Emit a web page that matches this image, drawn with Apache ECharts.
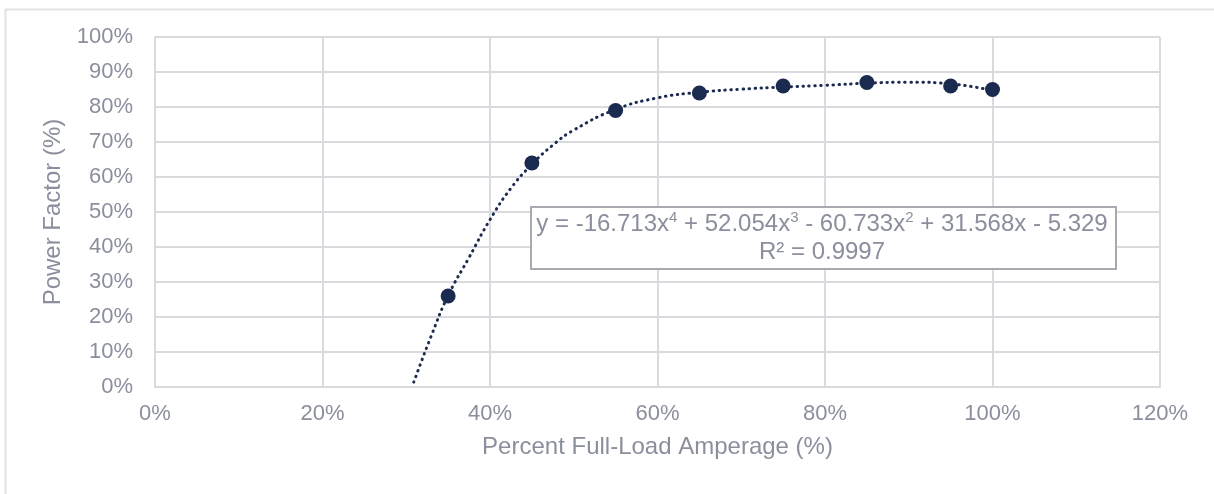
<!DOCTYPE html>
<html>
<head>
<meta charset="utf-8">
<script src="https://cdn.jsdelivr.net/npm/echarts@6/dist/echarts.min.js"></script>
<style>html,body{margin:0;padding:0;background:#fff}#c{width:1214px;height:494px}</style>
</head>
<body>
<div id="c"></div>
<script>
// Measured points (Percent Full-Load Amperage %, Power Factor %)
var loadPct = [35, 45, 55, 65, 75, 85, 95, 100];
var powerFactor = [26, 64, 79, 84, 86, 87, 86, 85];
// Trendline
var trendX = [30.9, 33, 35, 37.5, 40, 42.5, 45, 47.5, 50, 55, 60, 65, 70, 75, 80, 85, 90, 95, 100];
var trendY = [1.4, 14.7, 26.1, 37, 47.8, 56.8, 63.6, 69.1, 73.4, 79.3, 82.6, 84.2, 85.1, 85.7, 86.2, 86.8, 87.1, 86.6, 84.7];
var xTicks = {min: 0, max: 120, step: 20};
var yTicks = {min: 0, max: 100, step: 10};
var eqLine1 = ['y = -16.713x', '4', ' + 52.054x', '3', ' - 60.733x', '2', ' + 31.568x - 5.329'];
var eqLine2 = 'R² = 0.9997';
var xTitle = 'Percent Full-Load Amperage (%)';
var yTitle = 'Power Factor (%)';

var FONT = 'Liberation Sans';
var TXT = '#8b8e9c';
var GRID = '#d9d9de';
var NAVY = '#1b2a4f';

var pts = loadPct.map(function (x, i) { return [x, powerFactor[i]]; });
var trend = trendX.map(function (x, i) { return [x, trendY[i]]; });

var rich = {
  n: {fontSize: 24, fontFamily: FONT, fill: TXT, lineHeight: 27},
  s: {fontSize: 15, fontFamily: FONT, fill: TXT, verticalAlign: 'top', lineHeight: 17}
};
var l1 = eqLine1.map(function (t, i) { return (i % 2 ? '{s|' : '{n|') + t + '}'; }).join('');

var chart = echarts.init(document.getElementById('c'));
chart.setOption({
  animation: false,
  grid: {left: 155, right: 54, top: 37, bottom: 107},
  xAxis: {
    type: 'value', min: xTicks.min, max: xTicks.max, interval: xTicks.step,
    name: xTitle, nameLocation: 'middle', nameGap: 48,
    nameTextStyle: {color: TXT, fontSize: 24, fontFamily: FONT},
    axisLine: {show: true, lineStyle: {color: GRID, width: 2}},
    axisTick: {show: false},
    axisLabel: {formatter: '{value}%', color: TXT, fontSize: 22, fontFamily: FONT, margin: 16},
    splitLine: {show: true, lineStyle: {color: GRID, width: 2}}
  },
  yAxis: {
    type: 'value', min: yTicks.min, max: yTicks.max, interval: yTicks.step,
    name: yTitle, nameLocation: 'middle', nameGap: 90,
    nameTextStyle: {color: TXT, fontSize: 24, fontFamily: FONT},
    axisLine: {show: true, lineStyle: {color: GRID, width: 2}},
    axisTick: {show: false},
    axisLabel: {formatter: '{value}%', color: TXT, fontSize: 22, fontFamily: FONT, margin: 22},
    splitLine: {show: true, lineStyle: {color: GRID, width: 2}}
  },
  series: [
    {
      type: 'line', data: trend, smooth: true, showSymbol: false, z: 2,
      lineStyle: {color: NAVY, width: 3, type: [0.5, 5.5], cap: 'round'}
    },
    {
      type: 'scatter', data: pts, symbol: 'circle', symbolSize: 15, z: 3,
      itemStyle: {color: NAVY, opacity: 1}
    }
  ],
  graphic: [
    {type: 'rect', left: 3, top: 7, shape: {width: 1300, height: 600}, style: {fill: 'none', stroke: '#e2e2e6', lineWidth: 2}, silent: true, z: -10},
    {type: 'rect', left: 530, top: 206, shape: {width: 585, height: 62}, style: {fill: '#fff', stroke: '#a8aab2', lineWidth: 2}, z: 10},
    {type: 'text', x: 822, y: 224, style: {text: l1, rich: rich, align: 'center', verticalAlign: 'middle'}, z: 11},
    {type: 'text', x: 822, y: 252, style: {text: eqLine2, fontSize: 24, fontFamily: FONT, fill: TXT, align: 'center', verticalAlign: 'middle'}, z: 11}
  ]
});
</script>
</body>
</html>
